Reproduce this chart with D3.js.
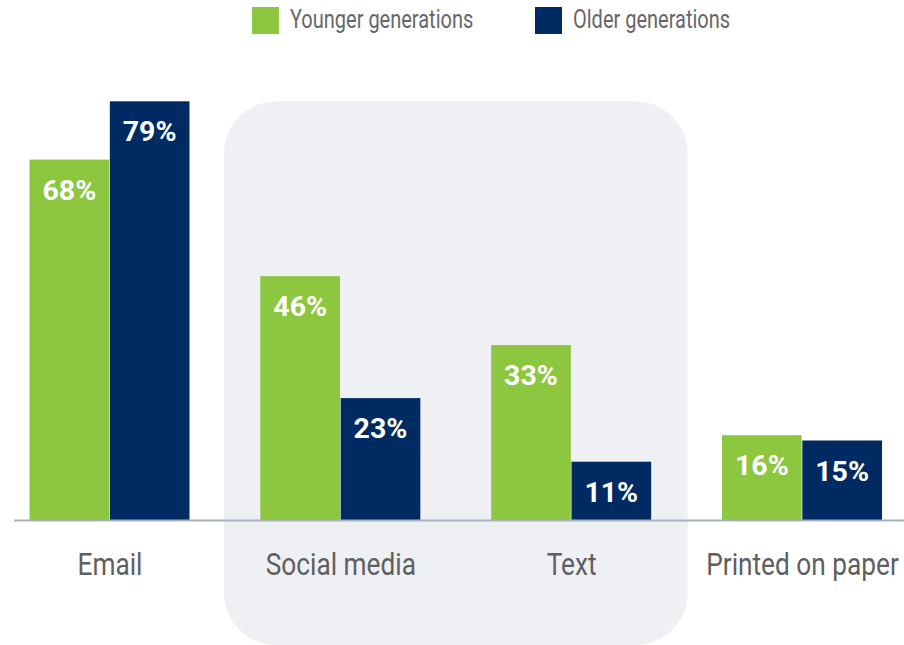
<!DOCTYPE html>
<html>
<head>
<meta charset="utf-8">
<script src="https://cdn.jsdelivr.net/npm/d3@7"></script>
<style>
  html, body { margin: 0; padding: 0; background: #ffffff; }
  svg { display: block; }
</style>
</head>
<body>
<svg id="chart" width="904" height="645"></svg>
<script>
// Share of each generation using each channel (%)
const categories = ["Email", "Social media", "Text", "Printed on paper"];
const seriesNames = ["Younger generations", "Older generations"];
const younger = [68, 46, 33, 16];
const older = [79, 23, 11, 15];
const highlighted = ["Social media", "Text"];

const colors = { "Younger generations": "#8dc63f", "Older generations": "#002b62" };
const values = { "Younger generations": younger, "Older generations": older };

const svg = d3.select("#chart");
const W = 904, H = 645;
const baseY = 520;

const x0 = d3.scalePoint().domain(categories).range([109.5, 802]);
const step = x0.step();
const x1 = d3.scaleBand().domain(seriesNames).range([-80, 80]).paddingInner(0.008);
const y = d3.scaleLinear().domain([0, 100]).range([baseY, baseY - 530]);

const condensed = 0.82;

// shaded panel behind the highlighted groups
const hlLeft = x0(highlighted[0]) - step / 2 - 1;
const hlRight = x0(highlighted[highlighted.length - 1]) + step / 2 + 1;
svg.append("rect")
  .attr("x", hlLeft)
  .attr("y", y(d3.max(older)))
  .attr("width", hlRight - hlLeft)
  .attr("height", H - y(d3.max(older)))
  .attr("rx", 52)
  .attr("fill", "#eff0f4");

// bars
const rows = [];
categories.forEach((c, i) => {
  seriesNames.forEach(s => rows.push({ cat: c, series: s, value: values[s][i] }));
});

const g = svg.append("g");
g.selectAll("rect.bar")
  .data(rows)
  .join("rect")
  .attr("class", "bar")
  .attr("x", d => x0(d.cat) + x1(d.series))
  .attr("y", d => y(d.value))
  .attr("width", x1.bandwidth())
  .attr("height", d => baseY - y(d.value))
  .attr("fill", d => colors[d.series]);

// value labels inside the bars
g.selectAll("text.val")
  .data(rows)
  .join("text")
  .attr("class", "val")
  .attr("x", d => x0(d.cat) + x1(d.series) + x1.bandwidth() / 2)
  .attr("y", d => y(d.value) + 40)
  .attr("text-anchor", "middle")
  .attr("fill", "#ffffff")
  .attr("font-family", "Roboto, 'Noto Sans', sans-serif")
  .attr("font-weight", 700)
  .attr("font-size", 28.5)
  .text(d => d.value + "%");

// baseline
svg.append("line")
  .attr("x1", 14).attr("x2", W)
  .attr("y1", baseY + 0.5).attr("y2", baseY + 0.5)
  .attr("stroke", "#a9b0bd")
  .attr("stroke-width", 2);

// category axis labels
const xAxis = svg.append("g").attr("transform", `translate(0,${baseY})`)
  .call(d3.axisBottom(x0).tickSize(0).tickPadding(0));
xAxis.select(".domain").remove();
xAxis.selectAll(".tick text")
  .attr("y", 0)
  .attr("dy", 0)
  .attr("text-anchor", "middle")
  .attr("fill", "#5e5f61")
  .attr("font-family", "Roboto, 'Noto Sans', sans-serif")
  .attr("font-size", 32)
  .attr("font-weight", 400)
  .attr("transform", `translate(0,55) scale(${condensed},1)`);

// legend
const legendItems = [
  { name: seriesNames[0], x: 252 },
  { name: seriesNames[1], x: 535 }
];
const lg = svg.append("g");
legendItems.forEach(it => {
  lg.append("rect")
    .attr("x", it.x).attr("y", 7)
    .attr("width", 27).attr("height", 27)
    .attr("fill", colors[it.name]);
  lg.append("text")
    .attr("transform", `translate(${it.x + 38},27.5) scale(0.8,1)`)
    .attr("fill", "#666769")
    .attr("font-family", "Roboto, 'Noto Sans', sans-serif")
    .attr("font-size", 25)
    .text(it.name);
});
</script>
</body>
</html>
